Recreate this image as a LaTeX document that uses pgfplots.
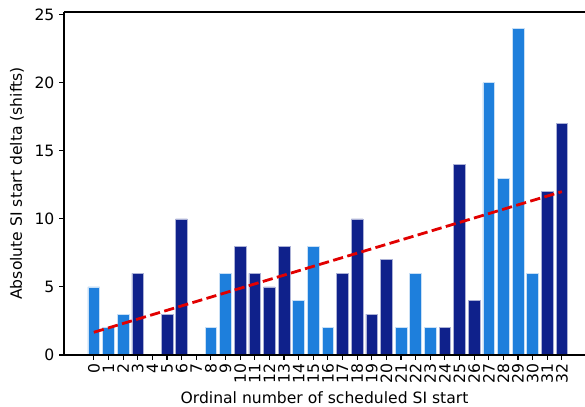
\documentclass[border=0pt]{standalone}
\usepackage{pgfplots}
\usepackage{pgfplotstable}
\pgfplotsset{compat=1.18}
\usepackage{fontspec}
\setmainfont{DejaVu Sans}

\definecolor{lightbar}{RGB}{30,127,220}
\definecolor{darkbar}{RGB}{15,33,139}
\definecolor{trend}{RGB}{225,0,0}

% SI starts drawn in light blue
\pgfplotstableread{
x y
0 5
1 2
2 3
8 2
9 6
14 4
15 8
16 2
21 2
22 6
23 2
27 20
28 13
29 24
30 6
}\lightdata

% SI starts drawn in dark blue
\pgfplotstableread{
x y
3 6
5 3
6 10
10 8
11 6
12 5
13 8
17 6
18 10
19 3
20 7
24 2
25 14
26 4
31 12
32 17
}\darkdata

\begin{document}
\begin{tikzpicture}
\begin{pgfinterruptboundingbox}
\begin{axis}[
  name=ax,
  scale only axis,
  width=521bp, height=343bp,
  xmin=-2.04, xmax=33.58,
  ymin=0, ymax=25.2,
  axis on top,
  axis x line*=box,
  axis y line*=left,
  x axis line style={-},
  y axis line style={-},
  axis line style={line width=1.1bp, black},
  xtick={0,...,32},
  ytick={0,5,10,15,20,25},
  xtick pos=left, ytick pos=left,
  tick align=outside,
  major tick length=4.9bp,
  tick style={line width=1.1bp, black},
  /pgf/number format/assume math mode=true,
  tick label style={font=\fontsize{15.6bp}{18bp}\selectfont},
  xticklabel style={rotate=90, anchor=east, inner sep=3.5bp},
  yticklabel style={inner sep=4.5bp},
  xlabel={Ordinal number of scheduled SI start},
  ylabel={Absolute SI start delta (shifts)},
  every axis x label/.style={at={(axis description cs:0.5,0)}, anchor=base, yshift=-48bp, font=\fontsize{15.6bp}{18bp}\selectfont},
  every axis y label/.style={at={(axis description cs:0,0.5)}, xshift=-42bp, rotate=90, anchor=base, font=\fontsize{15.6bp}{18bp}\selectfont},
  ybar, bar width=0.8, bar shift=0pt,
]
\addplot[fill=lightbar, draw=white!75!lightbar, line width=0.6bp] table[x=x, y=y] {\lightdata};
\addplot[fill=darkbar, draw=white!65!darkbar, line width=0.6bp] table[x=x, y=y] {\darkdata};
\addplot[sharp plot, trend, line width=2.8bp, dash pattern=on 10.3bp off 4.4bp] coordinates {(0,1.67) (32,12.0)};
\end{axis}
\end{pgfinterruptboundingbox}
\path[use as bounding box] ([shift={(-64bp,-52bp)}]ax.south west) rectangle ([shift={(0bp,12bp)}]ax.north east);
\end{tikzpicture}
\end{document}
